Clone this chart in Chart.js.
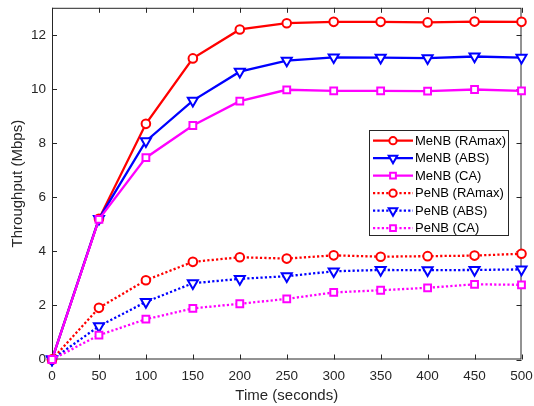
<!DOCTYPE html>
<html>
<head>
<meta charset="utf-8">
<script src="https://cdn.jsdelivr.net/npm/chart.js@4.4.1/dist/chart.umd.min.js"></script>
<style>
    html, body { margin: 0; padding: 0; background: #fff; }
</style>
</head>
<body>
<canvas id="throughput-chart" width="534" height="406"></canvas>
<script>
// Przepustowosc MeNB / PeNB w czasie
const TIME_SECONDS = [0, 50, 100, 150, 200, 250, 300, 350, 400, 450, 500];

const MENB_RAMAX = [0, 5.2, 8.71, 11.13, 12.2, 12.43, 12.48, 12.48, 12.46, 12.49, 12.48];
const MENB_ABS = [0, 5.2, 8.07, 9.57, 10.64, 11.05, 11.17, 11.16, 11.14, 11.2, 11.16];
const MENB_CA = [0, 5.18, 7.46, 8.65, 9.55, 9.97, 9.93, 9.93, 9.92, 9.98, 9.93];
const PENB_RAMAX = [0, 1.91, 2.93, 3.61, 3.78, 3.73, 3.85, 3.8, 3.82, 3.84, 3.91];
const PENB_ABS = [0, 1.23, 2.13, 2.82, 2.98, 3.08, 3.26, 3.31, 3.3, 3.31, 3.33];
const PENB_CA = [0, 0.9, 1.49, 1.89, 2.06, 2.24, 2.48, 2.56, 2.65, 2.78, 2.76];

const SERIES_LABELS = ['MeNB (RAmax)', 'MeNB (ABS)', 'MeNB (CA)', 'PeNB (RAmax)', 'PeNB (ABS)', 'PeNB (CA)'];
const SERIES_VALUES = [MENB_RAMAX, MENB_ABS, MENB_CA, PENB_RAMAX, PENB_ABS, PENB_CA];

const X_AXIS_TITLE = 'Time (seconds)';
const Y_AXIS_TITLE = 'Throughput (Mbps)';

const TEXT_COLOR = '#262626';
const FONT_FAMILY = '"Liberation Sans", Arial, Helvetica, sans-serif';

const STYLES = [
    { color: '#ff0000', pointStyle: 'circle', radius: 4.3, rotation: 0, dotted: false },
    { color: '#0000ff', pointStyle: 'triangle', radius: 5.8, rotation: 180, dotted: false },
    { color: '#ff00ff', pointStyle: 'rect', radius: 4.8, rotation: 0, dotted: false },
    { color: '#ff0000', pointStyle: 'circle', radius: 4.3, rotation: 0, dotted: true },
    { color: '#0000ff', pointStyle: 'triangle', radius: 5.8, rotation: 180, dotted: true },
    { color: '#ff00ff', pointStyle: 'rect', radius: 4.8, rotation: 0, dotted: true }
];

const datasets = SERIES_VALUES.map((values, i) => {
    const style = STYLES[i];
    return {
        label: SERIES_LABELS[i],
        data: values.map((v, j) => ({ x: TIME_SECONDS[j], y: v })),
        borderColor: style.color,
        backgroundColor: style.color,
        borderWidth: 2.3,
        borderDash: style.dotted ? [2.2, 2.2] : [],
        borderCapStyle: 'butt',
        tension: 0,
        pointStyle: style.pointStyle,
        pointRotation: style.rotation,
        pointRadius: style.radius,
        pointBorderWidth: 2,
        pointBorderColor: style.color,
        pointBackgroundColor: '#ffffff',
        order: SERIES_VALUES.length - i,
        clip: false
    };
});

// ramka osi + znaczniki do wewnatrz (jak w MATLAB)
const axesBoxPlugin = {
    id: 'axesBox',
    beforeDatasetsDraw(chart) {
        const { ctx, chartArea: a, scales } = chart;
        const tick = 5;
        ctx.save();
        ctx.strokeStyle = TEXT_COLOR;
        ctx.lineWidth = 1;
        ctx.strokeRect(a.left + 0.5, a.top + 0.5, a.right - a.left - 1, a.bottom - a.top - 1);
        ctx.beginPath();
        scales.x.ticks.forEach(t => {
            const px = Math.round(scales.x.getPixelForValue(t.value)) + 0.5;
            ctx.moveTo(px, a.bottom); ctx.lineTo(px, a.bottom - tick);
            ctx.moveTo(px, a.top); ctx.lineTo(px, a.top + tick);
        });
        scales.y.ticks.forEach(t => {
            const py = Math.round(scales.y.getPixelForValue(t.value)) + 0.5;
            ctx.moveTo(a.left, py); ctx.lineTo(a.left + tick, py);
            ctx.moveTo(a.right, py); ctx.lineTo(a.right - tick, py);
        });
        ctx.stroke();
        ctx.restore();
    }
};

const boxLegendPlugin = {
    id: 'boxLegend',
    afterDraw(chart) {
        const { ctx } = chart;
        const box = { left: 369.5, top: 130.5, width: 139, height: 105 };
        const rowStart = 140.7;
        const rowStep = 17.5;
        ctx.save();
        ctx.fillStyle = '#ffffff';
        ctx.fillRect(box.left, box.top, box.width, box.height);
        ctx.strokeStyle = TEXT_COLOR;
        ctx.lineWidth = 1;
        ctx.strokeRect(box.left, box.top, box.width, box.height);
        chart.data.datasets.forEach((ds, i) => {
            const y = rowStart + i * rowStep;
            ctx.save();
            ctx.strokeStyle = ds.borderColor;
            ctx.lineWidth = ds.borderWidth;
            ctx.setLineDash(ds.borderDash);
            ctx.beginPath();
            ctx.moveTo(373, y);
            ctx.lineTo(413, y);
            ctx.stroke();
            ctx.setLineDash([]);
            ctx.fillStyle = ds.pointBackgroundColor;
            ctx.strokeStyle = ds.pointBorderColor;
            ctx.lineWidth = ds.pointBorderWidth;
            Chart.helpers.drawPoint(ctx, {
                pointStyle: ds.pointStyle,
                rotation: ds.pointRotation,
                radius: ds.pointRadius * 0.85,
                borderWidth: ds.pointBorderWidth
            }, 393, y);
            ctx.restore();
            ctx.fillStyle = '#000000';
            ctx.font = '13px ' + FONT_FAMILY;
            ctx.textBaseline = 'middle';
            ctx.textAlign = 'left';
            ctx.fillText(ds.label, 415, y + 0.5);
        });
        ctx.restore();
    }
};

new Chart(document.getElementById('throughput-chart'), {
    type: 'line',
    data: { datasets },
    options: {
        responsive: false,
        animation: false,
        devicePixelRatio: 1,
        layout: { padding: { top: 7, right: 12.5, left: 0, bottom: 0 } },
        plugins: {
            legend: { display: false },
            tooltip: { enabled: false }
        },
        scales: {
            x: {
                type: 'linear',
                min: 0,
                max: 500,
                afterFit: scale => {
                    scale.height = 46.5;
                    scale.paddingLeft = 0;
                    scale.paddingRight = 0;
                },
                grid: { display: false, drawTicks: false },
                border: { display: false },
                ticks: {
                    stepSize: 50,
                    padding: 9,
                    maxRotation: 0,
                    color: TEXT_COLOR,
                    font: { family: FONT_FAMILY, size: 13.5 }
                },
                title: {
                    display: true,
                    text: X_AXIS_TITLE,
                    color: TEXT_COLOR,
                    font: { family: FONT_FAMILY, size: 15 },
                    padding: { top: 0, bottom: 1 }
                }
            },
            y: {
                min: 0,
                max: 13,
                afterFit: scale => {
                    scale.width = 52;
                    scale.paddingTop = 0;
                    scale.paddingBottom = 0;
                },
                grid: { display: false, drawTicks: false },
                border: { display: false },
                ticks: {
                    stepSize: 2,
                    includeBounds: false,
                    padding: 6,
                    color: TEXT_COLOR,
                    font: { family: FONT_FAMILY, size: 13.5 }
                },
                title: {
                    display: true,
                    text: Y_AXIS_TITLE,
                    color: TEXT_COLOR,
                    font: { family: FONT_FAMILY, size: 15 },
                    padding: { top: 8.6, bottom: 0 }
                }
            }
        }
    },
    plugins: [axesBoxPlugin, boxLegendPlugin]
});
</script>
</body>
</html>
